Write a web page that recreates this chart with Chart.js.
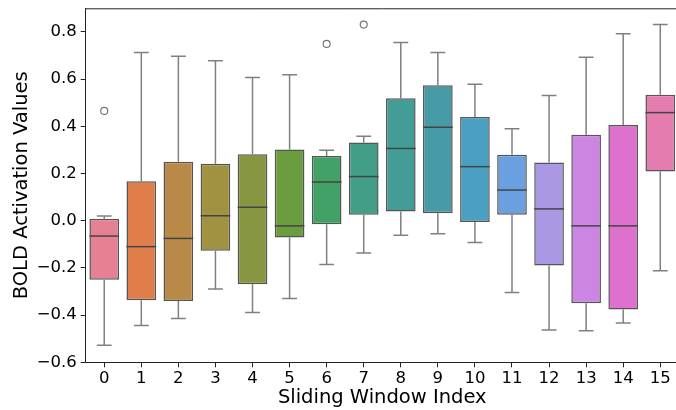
<!DOCTYPE html>
<html>
<head>
<meta charset="utf-8">
<script src="https://cdn.jsdelivr.net/npm/chart.js@4"></script>
<style>
  html, body { margin: 0; padding: 0; background: #fff; overflow: hidden; }
  #wrap { position: relative; width: 684px; height: 410px; }
</style>
</head>
<body>
<div id="wrap"><canvas id="c"></canvas></div>
<script>
// ---- data ----
const categories = ['0','1','2','3','4','5','6','7','8','9','10','11','12','13','14','15'];
const whiskerLow  = [-0.528,-0.444,-0.414,-0.289,-0.389,-0.330,-0.186,-0.137,-0.062,-0.055,-0.092,-0.304,-0.463,-0.466,-0.433,-0.212];
const q1          = [-0.250,-0.337,-0.340,-0.127,-0.269,-0.071,-0.015, 0.025, 0.039, 0.032,-0.006, 0.025,-0.190,-0.350,-0.376, 0.209];
const median      = [-0.065,-0.110,-0.075, 0.021, 0.057,-0.022, 0.164, 0.187, 0.306, 0.396, 0.229, 0.130, 0.050,-0.022,-0.022, 0.458];
const q3          = [ 0.008, 0.167, 0.250, 0.241, 0.282, 0.302, 0.274, 0.331, 0.519, 0.574, 0.439, 0.279, 0.247, 0.364, 0.406, 0.534];
const whiskerHigh = [ 0.020, 0.713, 0.697, 0.678, 0.607, 0.618, 0.298, 0.358, 0.755, 0.713, 0.578, 0.390, 0.530, 0.693, 0.792, 0.831];
const outliers    = [ 0.465, null, null, null, null, null, 0.749, 0.831, null, null, null, null, null, null, null, null];
const yTickValues = [-0.6,-0.4,-0.2,0.0,0.2,0.4,0.6,0.8];

// ---- style ----
const boxColors = ['#E68193','#DF7D4B','#B98A47','#A09240','#879640','#6B9D3E','#41A166','#429E87',
                   '#439C95','#479BA7','#49A0C2','#6BA0E0','#AA98E5','#CD85E3','#DE71CD','#E47CB0'];
const edgeColor = '#555555';
const whiskerColor = '#808080';
const FONT = 'DejaVu Sans';

const boxplotPlugin = {
  id: 'boxExtras',
  beforeDatasetsDraw(chart) {
    const {ctx, scales: {x, y}} = chart;
    const meta = chart.getDatasetMeta(0);
    ctx.save();
    ctx.strokeStyle = whiskerColor;
    ctx.lineWidth = 1.5;
    categories.forEach((c, i) => {
      const cx = x.getPixelForValue(i);
      const half = meta.data[i].width / 4;
      const yLo = y.getPixelForValue(whiskerLow[i]);
      const yHi = y.getPixelForValue(whiskerHigh[i]);
      const y1 = y.getPixelForValue(q1[i]);
      const y3 = y.getPixelForValue(q3[i]);
      ctx.beginPath();
      ctx.moveTo(cx, y3); ctx.lineTo(cx, yHi);
      ctx.moveTo(cx, y1); ctx.lineTo(cx, yLo);
      ctx.moveTo(cx - half, yHi); ctx.lineTo(cx + half, yHi);
      ctx.moveTo(cx - half, yLo); ctx.lineTo(cx + half, yLo);
      ctx.stroke();
    });
    ctx.restore();
  },
  afterDatasetsDraw(chart) {
    const {ctx, chartArea, scales: {x, y}} = chart;
    const meta = chart.getDatasetMeta(0);
    ctx.save();
    ctx.strokeStyle = '#444444';
    ctx.lineWidth = 1.5;
    categories.forEach((c, i) => {
      const bar = meta.data[i];
      const cx = x.getPixelForValue(i);
      const hw = bar.width / 2;
      const ym = y.getPixelForValue(median[i]);
      ctx.beginPath();
      ctx.moveTo(cx - hw, ym); ctx.lineTo(cx + hw, ym);
      ctx.stroke();
    });
    // top / right spines
    ctx.strokeStyle = '#222222';
    ctx.lineWidth = 1;
    ctx.beginPath();
    ctx.moveTo(chartArea.left, chartArea.top + 0.5);
    ctx.lineTo(chartArea.right, chartArea.top + 0.5);
    ctx.moveTo(chartArea.right - 0.5, chartArea.top);
    ctx.lineTo(chartArea.right - 0.5, chartArea.bottom);
    ctx.stroke();
    ctx.restore();
  }
};

new Chart(document.getElementById('c'), {
  data: {
    labels: categories,
    datasets: [
      {
        type: 'bar',
        data: q1.map((v, i) => [v, q3[i]]),
        backgroundColor: boxColors,
        borderColor: edgeColor,
        borderWidth: 1.5,
        borderSkipped: false,
        barPercentage: 0.8,
        categoryPercentage: 1.0,
        order: 2
      },
      {
        type: 'line',
        data: outliers,
        showLine: false,
        pointRadius: 3.5,
        pointBorderWidth: 1.2,
        pointBorderColor: '#777777',
        pointBackgroundColor: 'rgba(0,0,0,0)',
        order: 1
      }
    ]
  },
  options: {
    responsive: true,
    maintainAspectRatio: false,
    animation: false,
    events: [],
    layout: { padding: { top: 8.3, right: 4.4, left: 0, bottom: 0 } },
    plugins: { legend: { display: false }, tooltip: { enabled: false } },
    scales: {
      x: {
        type: 'category',
        offset: true,
        grid: { display: true, drawOnChartArea: false, drawTicks: true, tickLength: 5, color: '#222', offset: false },
        border: { display: true, color: '#222', width: 1 },
        ticks: { color: '#000', font: { family: FONT, size: 16.5 }, padding: 2, maxRotation: 0, autoSkip: false },
        title: { display: true, text: 'Sliding Window Index', color: '#000', font: { family: FONT, size: 19.5 }, padding: { top: 0, bottom: 0 } },
        afterFit(s) { s.height = 47.7; s.paddingLeft = 0; s.paddingRight = 0; }
      },
      y: {
        type: 'linear',
        min: -0.6,
        max: 0.9,
        grid: { display: true, drawOnChartArea: false, drawTicks: true, tickLength: 5, color: '#222' },
        border: { display: true, color: '#222', width: 1 },
        ticks: {
          color: '#000', font: { family: FONT, size: 16.5 }, padding: 4,
          callback: v => v.toFixed(1).replace('-', '\u2212')
        },
        afterBuildTicks(s) { s.ticks = yTickValues.map(v => ({ value: v })); },
        title: { display: true, text: 'BOLD Activation Values', color: '#000', font: { family: FONT, size: 19.5 }, padding: { top: 10.5, bottom: 0 } },
        afterFit(s) { s.width = 85.7; s.paddingTop = 0; s.paddingBottom = 0; }
      }
    }
  },
  plugins: [boxplotPlugin]
});
</script>
</body>
</html>
